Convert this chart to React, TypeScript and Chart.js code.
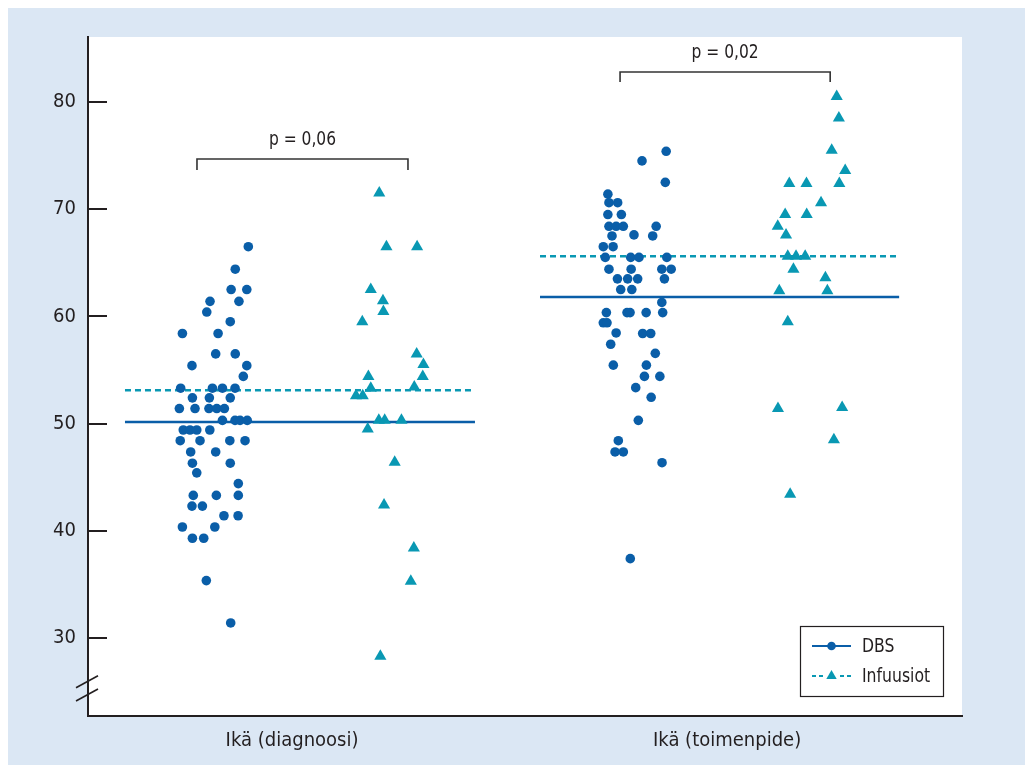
import React, { useEffect, useRef } from "react";
import { Chart, registerables } from "chart.js";

Chart.register(...registerables);

// ---------- data ----------
const categories = ["Ikä (diagnoosi)", "Ikä (toimenpide)"];
const categoryPositions = [1, 3];
const yTicks = [30, 40, 50, 60, 70, 80];
const seriesNames = ["DBS", "Infuusiot"];

// DBS, age at diagnosis
const dbsDiagX = [0.799, 0.739, 0.72, 0.792, 0.623, 0.756, 0.608, 0.716, 0.496, 0.66, 0.649, 0.739, 0.54, 0.792, 0.776, 0.488, 0.634, 0.68, 0.738, 0.542, 0.62, 0.716, 0.482, 0.554, 0.618, 0.654, 0.689, 0.68, 0.738, 0.761, 0.794, 0.5, 0.531, 0.562, 0.622, 0.486, 0.577, 0.714, 0.784, 0.534, 0.649, 0.542, 0.716, 0.562, 0.753, 0.546, 0.652, 0.753, 0.54, 0.588, 0.687, 0.752, 0.496, 0.645, 0.542, 0.594, 0.606, 0.718];
const dbsDiagY = [66.5, 64.4, 62.5, 62.5, 61.4, 61.4, 60.4, 59.5, 58.4, 58.4, 56.5, 56.5, 55.4, 55.4, 54.4, 53.3, 53.3, 53.3, 53.3, 52.4, 52.4, 52.4, 51.4, 51.4, 51.4, 51.4, 51.4, 50.3, 50.3, 50.3, 50.3, 49.4, 49.4, 49.4, 49.4, 48.4, 48.4, 48.4, 48.4, 47.35, 47.35, 46.3, 46.3, 45.4, 44.4, 43.3, 43.3, 43.3, 42.3, 42.3, 41.4, 41.4, 40.35, 40.35, 39.3, 39.3, 35.35, 31.4];

// Infuusiot, age at diagnosis
const infDiagX = [1.401, 1.434, 1.575, 1.362, 1.418, 1.42, 1.323, 1.573, 1.604, 1.601, 1.351, 1.362, 1.562, 1.294, 1.325, 1.399, 1.426, 1.503, 1.348, 1.472, 1.423, 1.56, 1.546, 1.406];
const infDiagY = [71.5, 66.5, 66.5, 62.5, 61.45, 60.45, 59.5, 56.5, 55.5, 54.4, 54.4, 53.3, 53.4, 52.6, 52.6, 50.3, 50.3, 50.3, 49.5, 46.4, 42.4, 38.4, 35.3, 28.3];

// DBS, age at procedure
const dbsOpX = [2.72, 2.609, 2.716, 2.452, 2.457, 2.497, 2.452, 2.514, 2.457, 2.49, 2.523, 2.674, 2.572, 2.658, 2.471, 2.431, 2.476, 2.44, 2.557, 2.595, 2.723, 2.457, 2.559, 2.7, 2.743, 2.496, 2.543, 2.589, 2.712, 2.511, 2.562, 2.7, 2.445, 2.54, 2.554, 2.628, 2.704, 2.431, 2.448, 2.49, 2.612, 2.649, 2.465, 2.67, 2.477, 2.629, 2.62, 2.691, 2.58, 2.651, 2.592, 2.5, 2.485, 2.523, 2.701, 2.555];
const dbsOpY = [75.4, 74.5, 72.5, 71.4, 70.6, 70.6, 69.5, 69.5, 68.4, 68.4, 68.4, 68.4, 67.6, 67.5, 67.5, 66.5, 66.5, 65.5, 65.5, 65.5, 65.5, 64.4, 64.4, 64.4, 64.4, 63.5, 63.5, 63.5, 63.5, 62.5, 62.5, 61.3, 60.35, 60.35, 60.35, 60.35, 60.35, 59.4, 59.4, 58.45, 58.4, 58.4, 57.4, 56.55, 55.45, 55.45, 54.4, 54.4, 53.35, 52.45, 50.3, 48.4, 47.35, 47.35, 46.35, 37.4];

// Infuusiot, age at procedure
const infOpX = [3.504, 3.514, 3.481, 3.543, 3.286, 3.365, 3.516, 3.432, 3.267, 3.366, 3.233, 3.271, 3.279, 3.317, 3.359, 3.305, 3.452, 3.24, 3.461, 3.279, 3.234, 3.529, 3.491, 3.29];
const infOpY = [80.5, 78.5, 75.5, 73.6, 72.4, 72.4, 72.4, 70.6, 69.5, 69.5, 68.4, 67.6, 65.6, 65.6, 65.6, 64.4, 63.6, 62.4, 62.4, 59.5, 51.4, 51.5, 48.5, 43.4];

// group means (lines)
const dbsMeans = [50.15, 61.8];
const infMeans = [53.1, 65.6];
const meanLineStart = [0.232, 2.14];
const meanLineEnd = [1.841, 3.791];

// significance brackets
const pLabels = ["p = 0,06", "p = 0,02"];
const bracketStart = [0.563, 2.508];
const bracketEnd = [1.533, 3.474];
const bracketTop = [74.68, 82.8];
const bracketBottom = [73.66, 81.87];
const pLabelY = [76.45, 84.57];

// ---------- styles ----------
const FONT = "'Liberation Sans Narrow', 'DejaVu Sans Condensed', 'Roboto', sans-serif";
const DBS_COLOR = "#0a5ea8";
const INF_COLOR = "#0998b3";
const INK = "#231f20";
const BG = "#dbe7f4";

const zip = (xs: number[], ys: number[]) => xs.map((x, i) => ({ x, y: ys[i] }));

const squeezedText = (ctx: any, text: string, x: number, y: number, sx: number) => {
  ctx.save();
  ctx.translate(x, y);
  ctx.scale(sx, 1);
  ctx.fillText(text, 0, 0);
  ctx.restore();
};

const decorPlugin = {
  id: "decor",
  beforeDraw(chart: any) {
    const { ctx, chartArea } = chart;
    ctx.save();
    ctx.fillStyle = BG;
    ctx.fillRect(0, 0, chart.width, chart.height);
    ctx.fillStyle = "#ffffff";
    ctx.fillRect(chartArea.left, chartArea.top, chartArea.right - chartArea.left, chartArea.bottom - chartArea.top);
    ctx.restore();
  },
  afterDraw(chart: any) {
    const { ctx, chartArea, scales } = chart;
    const xs = scales.x;
    const ys = scales.y;
    ctx.save();
    // inward y ticks
    ctx.strokeStyle = INK;
    ctx.lineWidth = 2;
    yTicks.forEach((v) => {
      const py = Math.round(ys.getPixelForValue(v));
      ctx.beginPath();
      ctx.moveTo(chartArea.left, py);
      ctx.lineTo(chartArea.left + 19, py);
      ctx.stroke();
    });
    // axis break marks
    ctx.lineWidth = 1.6;
    [25.92, 24.68].forEach((v) => {
      const py = ys.getPixelForValue(v);
      ctx.beginPath();
      ctx.moveTo(chartArea.left - 12, py + 6);
      ctx.lineTo(chartArea.left + 10, py - 6);
      ctx.stroke();
    });
    // brackets and p-values
    ctx.strokeStyle = "#333333";
    ctx.lineWidth = 1.6;
    ctx.fillStyle = INK;
    ctx.font = `20px ${FONT}`;
    ctx.textAlign = "center";
    ctx.textBaseline = "middle";
    pLabels.forEach((label, i) => {
      const x1 = xs.getPixelForValue(bracketStart[i]);
      const x2 = xs.getPixelForValue(bracketEnd[i]);
      const yt = ys.getPixelForValue(bracketTop[i]);
      const yb = ys.getPixelForValue(bracketBottom[i]);
      ctx.beginPath();
      ctx.moveTo(x1, yb);
      ctx.lineTo(x1, yt);
      ctx.lineTo(x2, yt);
      ctx.lineTo(x2, yb);
      ctx.stroke();
      squeezedText(ctx, label, (x1 + x2) / 2, ys.getPixelForValue(pLabelY[i]), 0.86);
    });
    // legend box
    const bw = 143;
    const bh = 70;
    const bx = chartArea.right - 19 - bw;
    const by = chartArea.bottom - 20 - bh;
    ctx.fillStyle = "#ffffff";
    ctx.fillRect(bx, by, bw, bh);
    ctx.strokeStyle = INK;
    ctx.lineWidth = 1.2;
    ctx.strokeRect(bx + 0.5, by + 0.5, bw, bh);
    const rows = [by + 20, by + 50];
    const lx1 = bx + 12;
    const lx2 = bx + 51;
    const lxm = (lx1 + lx2) / 2;
    // DBS row
    ctx.strokeStyle = DBS_COLOR;
    ctx.lineWidth = 2.2;
    ctx.setLineDash([]);
    ctx.beginPath();
    ctx.moveTo(lx1, rows[0]);
    ctx.lineTo(lx2, rows[0]);
    ctx.stroke();
    ctx.fillStyle = DBS_COLOR;
    ctx.beginPath();
    ctx.arc(lxm, rows[0], 4.3, 0, Math.PI * 2);
    ctx.fill();
    // Infuusiot row
    ctx.strokeStyle = INF_COLOR;
    ctx.setLineDash([4, 3]);
    ctx.beginPath();
    ctx.moveTo(lx1, rows[1]);
    ctx.lineTo(lx2, rows[1]);
    ctx.stroke();
    ctx.setLineDash([]);
    ctx.fillStyle = "#ffffff";
    ctx.fillRect(lxm - 7, rows[1] - 8, 14, 14);
    ctx.fillStyle = INF_COLOR;
    const r = 6;
    ctx.beginPath();
    ctx.moveTo(lxm, rows[1] - r);
    ctx.lineTo(lxm + r * 0.866, rows[1] + r / 2);
    ctx.lineTo(lxm - r * 0.866, rows[1] + r / 2);
    ctx.closePath();
    ctx.fill();
    ctx.fillStyle = INK;
    ctx.font = `20px ${FONT}`;
    ctx.textAlign = "left";
    ctx.textBaseline = "middle";
    seriesNames.forEach((n, i) => squeezedText(ctx, n, bx + 62, rows[i] + 1, 0.87));
    ctx.restore();
  },
};

export default function App() {
  const ref = useRef<HTMLCanvasElement | null>(null);
  useEffect(() => {
    if (!ref.current) return;
    const meanLine = (i: number, v: number, color: string, dashed: boolean) => ({
      type: "line" as const,
      data: [
        { x: meanLineStart[i], y: v },
        { x: meanLineEnd[i], y: v },
      ],
      borderColor: color,
      borderWidth: 2.5,
      borderDash: dashed ? [6, 4] : [],
      pointRadius: 0,
      showLine: true,
      fill: false,
      order: 2,
    });
    const chart = new Chart(ref.current, {
      type: "scatter",
      data: {
        datasets: [
          {
            label: seriesNames[0],
            data: [...zip(dbsDiagX, dbsDiagY), ...zip(dbsOpX, dbsOpY)],
            backgroundColor: DBS_COLOR,
            borderWidth: 0,
            pointStyle: "circle",
            pointRadius: 4.8,
            order: 0,
          },
          {
            label: seriesNames[1],
            data: [...zip(infDiagX, infDiagY), ...zip(infOpX, infOpY)],
            backgroundColor: INF_COLOR,
            borderWidth: 0,
            pointStyle: "triangle",
            pointRadius: 7,
            order: 0,
          },
          meanLine(0, dbsMeans[0], DBS_COLOR, false),
          meanLine(1, dbsMeans[1], DBS_COLOR, false),
          meanLine(0, infMeans[0], INF_COLOR, true),
          meanLine(1, infMeans[1], INF_COLOR, true),
        ] as any,
      },
      options: {
        responsive: false,
        animation: false,
        layout: { padding: { top: 29, right: 63, left: 0, bottom: 0 } },
        plugins: { legend: { display: false }, tooltip: { enabled: false } },
        scales: {
          x: {
            type: "linear",
            min: 0.062,
            max: 4.08,
            afterBuildTicks: (s: any) => {
              s.ticks = categoryPositions.map((v) => ({ value: v }));
            },
            afterFit: (s: any) => {
              s.height = 49;
            },
            ticks: {
              autoSkip: false,
              maxRotation: 0,
              padding: 13,
              color: INK,
              font: { family: FONT, size: 20 },
              callback: (v: any) => {
                const i = categoryPositions.indexOf(Number(v));
                return i >= 0 ? categories[i] : "";
              },
            },
            grid: { display: false, drawTicks: false },
            border: { display: true, color: INK, width: 2 },
          },
          y: {
            type: "linear",
            min: 22.72,
            max: 86.06,
            afterBuildTicks: (s: any) => {
              s.ticks = yTicks.map((v) => ({ value: v }));
            },
            afterFit: (s: any) => {
              s.width = 80;
            },
            ticks: {
              padding: 12,
              color: INK,
              font: { family: FONT, size: 20 },
            },
            grid: { display: false, drawTicks: false },
            border: { display: true, color: INK, width: 2 },
          },
        },
      },
      plugins: [decorPlugin],
    });
    return () => chart.destroy();
  }, []);
  return (
    <canvas
      ref={ref}
      width={1017}
      height={757}
      style={{ display: "block", position: "fixed", left: 8, top: 8 }}
    />
  );
}
